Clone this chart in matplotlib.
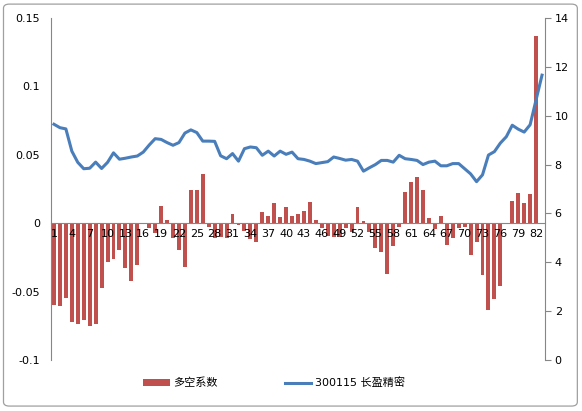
import matplotlib
matplotlib.use("Agg")
import matplotlib.pyplot as plt
from matplotlib.patches import FancyBboxPatch
import numpy as np

plt.rcParams['font.family'] = ['DejaVu Sans', 'Noto Sans CJK SC']

categories = list(range(1, 84))
bar_label = "多空系数"
line_label = "300115 长盈精密"

bar_values = [
    -0.060, -0.0605, -0.055, -0.0725, -0.074, -0.0705, -0.075, -0.074, -0.0475, -0.0283,
    -0.026, -0.0195, -0.0324, -0.0419, -0.0304, 0.0, -0.0037, -0.007, 0.0123, 0.002,
    -0.011, -0.0195, -0.0317, 0.024, 0.024, 0.036, -0.003, -0.011, -0.010, -0.011,
    0.0068, -0.0012, -0.0056, -0.0115, -0.0137, 0.0082, 0.0055, 0.015, 0.0044, 0.0117,
    0.0049, 0.0068, 0.009, 0.0158, 0.002, -0.0032, -0.0096, -0.010, -0.010, -0.0035,
    -0.0066, 0.0117, 0.0015, -0.0066, -0.018, -0.0207, -0.037, -0.0168, -0.003, 0.023,
    0.030, 0.034, 0.024, 0.0036, -0.0044, 0.0049, -0.016, -0.0105, -0.0036, -0.0025,
    -0.0233, -0.0134, -0.0377, -0.0635, -0.0555, -0.0462, -0.0008, 0.0163, 0.0219, 0.0146,
    0.0214, 0.137, 0.0,
]

line_values = [
    9.65, 9.51, 9.46, 8.55, 8.09, 7.83, 7.85, 8.10, 7.84, 8.09,
    8.48, 8.22, 8.26, 8.31, 8.35, 8.51, 8.80, 9.06, 9.03, 8.90,
    8.79, 8.90, 9.29, 9.42, 9.31, 8.96, 8.96, 8.95, 8.36, 8.24,
    8.45, 8.14, 8.65, 8.72, 8.69, 8.38, 8.55, 8.35, 8.55, 8.42,
    8.51, 8.24, 8.21, 8.14, 8.04, 8.08, 8.12, 8.31, 8.25, 8.18,
    8.21, 8.14, 7.73, 7.87, 8.00, 8.17, 8.17, 8.10, 8.38, 8.24,
    8.21, 8.17, 8.00, 8.10, 8.14, 7.95, 7.95, 8.04, 8.04, 7.83,
    7.62, 7.30, 7.58, 8.39, 8.53, 8.88, 9.14, 9.61, 9.45, 9.33,
    9.63, 10.65, 11.66,
]

left_ticks = [-0.1, -0.05, 0, 0.05, 0.1, 0.15]
left_ticklabels = ["-0.1", "-0.05", "0", "0.05", "0.1", "0.15"]
right_ticks = [0, 2, 4, 6, 8, 10, 12, 14]
x_ticks = list(range(1, 84, 3))

BAR_COLOR = "#C0504D"
LINE_COLOR = "#4A7EBB"
AXIS_COLOR = "#868686"

fig = plt.figure(figsize=(5.82, 4.11), dpi=100)
fig.patch.set_facecolor("white")

# chart area frame
frame = FancyBboxPatch((0.006, 0.012), 0.986, 0.978, boxstyle="round,pad=0,rounding_size=0.01",
                       transform=fig.transFigure, fill=False, edgecolor="#A0A0A0", linewidth=0.9)
fig.add_artist(frame)

ax = fig.add_axes([51 / 582, 1 - 360 / 411, (545 - 51) / 582, (360 - 18) / 411])
bars = ax.bar(categories, bar_values, width=0.66, color=BAR_COLOR, label=bar_label, zorder=1)
ax.set_xlim(0.5, 83.5)
ax.set_ylim(-0.1, 0.15)
ax.set_yticks(left_ticks)
ax.set_yticklabels(left_ticklabels)
ax.set_xticks(x_ticks)
ax.set_xticklabels([str(c) for c in x_ticks])
ax.spines['bottom'].set_position(('data', 0))
ax.spines['bottom'].set_color(AXIS_COLOR)
ax.spines['left'].set_color(AXIS_COLOR)
ax.spines['top'].set_visible(False)
ax.spines['right'].set_visible(False)
ax.tick_params(axis='x', length=0, pad=4, labelsize=8, colors="black")
ax.tick_params(axis='y', length=0, pad=8, labelsize=8, colors="black")
ax.xaxis.set_zorder(3)
ax.set_facecolor("none")

ax2 = ax.twinx()
line, = ax2.plot(categories, line_values, color=LINE_COLOR, linewidth=2.2, label=line_label,
                 solid_joinstyle='round')
ax2.set_ylim(0, 14)
ax2.set_yticks(right_ticks)
ax2.spines['right'].set_color(AXIS_COLOR)
ax2.spines['left'].set_visible(False)
ax2.spines['top'].set_visible(False)
ax2.spines['bottom'].set_visible(False)
ax2.tick_params(axis='y', length=4, direction='out', color=AXIS_COLOR, pad=3, labelsize=8,
                labelcolor="black")

fig.legend([bars, line], [bar_label, line_label], loc='center', ncol=2,
           bbox_to_anchor=(274 / 582, 1 - 383 / 411), frameon=False,
           prop={'family': ['DejaVu Sans', 'Noto Sans CJK SC'], 'size': 8},
           handlelength=2.4, handleheight=0.55, handletextpad=0.3, columnspacing=6.0)

fig.savefig("out.png", dpi=100)
